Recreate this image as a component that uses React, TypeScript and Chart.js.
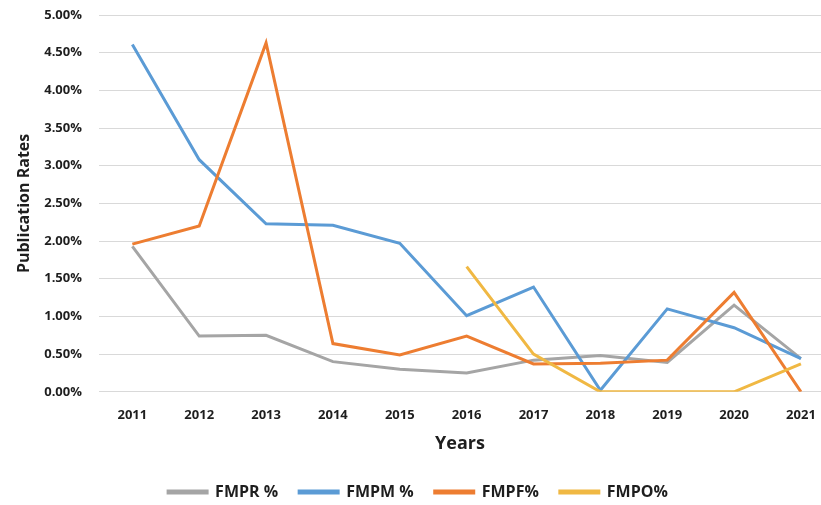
import React, { useEffect, useRef } from "react";
import { Chart, registerables } from "chart.js";

Chart.register(...registerables);

const years = [2011, 2012, 2013, 2014, 2015, 2016, 2017, 2018, 2019, 2020, 2021];
const fmpr = [1.93, 0.74, 0.75, 0.4, 0.3, 0.25, 0.42, 0.48, 0.39, 1.15, 0.44];
const fmpm = [4.61, 3.08, 2.23, 2.21, 1.97, 1.01, 1.39, 0.02, 1.1, 0.85, 0.44];
const fmpf = [1.96, 2.2, 4.63, 0.64, 0.49, 0.74, 0.37, 0.38, 0.42, 1.32, 0];
const fmpo = [null, null, null, null, null, 1.66, 0.5, 0, 0, 0, 0.37];
const yTicks = [0, 0.5, 1, 1.5, 2, 2.5, 3, 3.5, 4, 4.5, 5];

const FONT = "'Open Sans', sans-serif";
const TEXT = "#1e1e1e";

export default function App() {
  const ref = useRef<HTMLCanvasElement>(null);
  useEffect(() => {
    document.body.style.margin = "0";
    const ctx = ref.current!.getContext("2d")!;
    const mk = (label: string, data: (number | null)[], color: string, order: number) => ({
      label,
      data,
      borderColor: color,
      backgroundColor: color,
      borderWidth: 3,
      pointRadius: 0,
      tension: 0,
      spanGaps: false,
      order,
    });
    const chart = new Chart(ctx, {
      type: "line",
      data: {
        labels: years,
        datasets: [
          mk("FMPR %", fmpr, "#A5A5A5", 4),
          mk("FMPM %", fmpm, "#5B9BD5", 3),
          mk("FMPF%", fmpf, "#ED7D31", 2),
          mk("FMPO%", fmpo, "#F0B843", 1),
        ],
      },
      options: {
        animation: false,
        responsive: false,
        layout: { padding: { left: 15, right: 0, top: 15, bottom: -5 } },
        plugins: {
          tooltip: { enabled: false },
          legend: {
            position: "bottom",
            labels: {
              sort: (a: any, b: any) => a.datasetIndex - b.datasetIndex,
              boxWidth: 39,
              boxHeight: 2,
              padding: 21,
              color: TEXT,
              font: { family: FONT, size: 16, weight: "bold" },
            },
          },
        },
        scales: {
          x: {
            type: "linear",
            min: 2010.5,
            max: 2021.3,
            afterBuildTicks: (scale: any) => {
              scale.ticks = years.map((v) => ({ value: v }));
            },
            grid: { display: true, drawOnChartArea: false, drawTicks: true, tickLength: 16, tickColor: "rgba(0,0,0,0)" },
            border: { display: false },
            ticks: {
              padding: 0,
              color: TEXT,
              font: { family: FONT, size: 13, weight: "bold" },
              callback: (v: any) => String(v),
              maxRotation: 0,
            },
            title: {
              display: true,
              text: "Years",
              color: TEXT,
              font: { family: FONT, size: 18, weight: "bold" },
              padding: { top: 10, bottom: 8 },
            },
          },
          y: {
            min: 0,
            max: 5,
            afterBuildTicks: (scale: any) => {
              scale.ticks = yTicks.map((v) => ({ value: v }));
            },
            grid: { color: "#D9D9D9", lineWidth: 1, drawTicks: true, tickLength: 17, tickColor: "rgba(0,0,0,0)" },
            border: { display: false },
            ticks: {
              padding: 0,
              color: TEXT,
              font: { family: FONT, size: 13, weight: "bold" },
              callback: (v: any) => Number(v).toFixed(2) + "%",
            },
            title: {
              display: true,
              text: "Publication Rates",
              color: TEXT,
              font: { family: FONT, size: 16, weight: "bold" },
              padding: { top: 0, bottom: 10 },
            },
          },
        },
      },
    } as any);
    return () => chart.destroy();
  }, []);
  return (
    <div style={{ position: "absolute", left: 0, top: 0, width: 821, height: 505 }}>
      <canvas ref={ref} width={821} height={505} />
    </div>
  );
}
